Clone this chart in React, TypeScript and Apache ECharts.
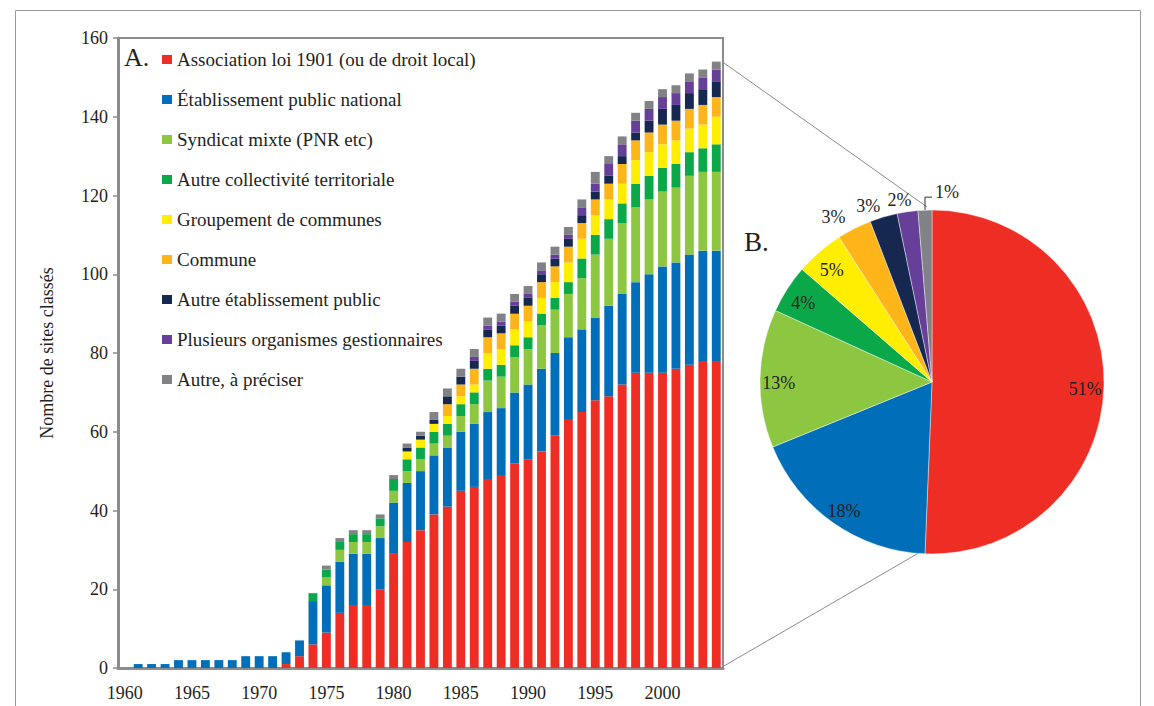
import React, { useEffect, useRef } from "react";
import * as echarts from "echarts";

const years = [
  "1960", "1961", "1962", "1963", "1964", "1965", "1966", "1967", "1968", "1969",
  "1970", "1971", "1972", "1973", "1974", "1975", "1976", "1977", "1978", "1979",
  "1980", "1981", "1982", "1983", "1984", "1985", "1986", "1987", "1988", "1989",
  "1990", "1991", "1992", "1993", "1994", "1995", "1996", "1997", "1998", "1999",
  "2000", "2001", "2002", "2003", "2004",
];

const seriesNames = [
  "Association loi 1901 (ou de droit local)",
  "Établissement public national",
  "Syndicat mixte (PNR etc)",
  "Autre collectivité territoriale",
  "Groupement de communes",
  "Commune",
  "Autre établissement public",
  "Plusieurs organismes gestionnaires",
  "Autre, à préciser",
];

const colors = ["#EE2E24", "#006EB8", "#8DC640", "#0BA84A", "#FFEE00", "#FDB519", "#16284F", "#663F98", "#808285"];

const association = [0, 0, 0, 0, 0, 0, 0, 0, 0, 0, 0, 0, 1, 3, 6, 9, 14, 16, 16, 20, 29, 32, 35, 39, 41, 45, 46, 48, 49, 52, 53, 55, 59, 63, 65, 68, 69, 72, 75, 75, 75, 76, 77, 78, 78];
const etabNational = [0, 1, 1, 1, 2, 2, 2, 2, 2, 3, 3, 3, 3, 4, 11, 12, 13, 13, 13, 13, 13, 15, 15, 15, 15, 15, 16, 17, 17, 18, 19, 21, 21, 21, 21, 21, 23, 23, 23, 25, 27, 27, 28, 28, 28];
const syndicatMixte = [0, 0, 0, 0, 0, 0, 0, 0, 0, 0, 0, 0, 0, 0, 0, 2, 3, 3, 3, 3, 3, 3, 3, 3, 3, 4, 5, 8, 8, 9, 9, 11, 11, 11, 13, 16, 17, 18, 19, 19, 19, 19, 20, 20, 20];
const collectivite = [0, 0, 0, 0, 0, 0, 0, 0, 0, 0, 0, 0, 0, 0, 2, 2, 2, 2, 2, 2, 3, 3, 3, 3, 3, 3, 3, 3, 3, 3, 3, 3, 3, 3, 5, 5, 5, 5, 6, 6, 6, 6, 6, 6, 7];
const groupement = [0, 0, 0, 0, 0, 0, 0, 0, 0, 0, 0, 0, 0, 0, 0, 0, 0, 0, 0, 0, 0, 2, 2, 2, 2, 2, 2, 4, 4, 4, 4, 4, 4, 5, 5, 5, 5, 5, 6, 6, 6, 6, 6, 6, 7];
const commune = [0, 0, 0, 0, 0, 0, 0, 0, 0, 0, 0, 0, 0, 0, 0, 0, 0, 0, 0, 0, 0, 0, 0, 0, 3, 3, 4, 4, 4, 4, 4, 4, 4, 4, 4, 4, 4, 5, 5, 5, 5, 5, 5, 5, 5];
const autreEtab = [0, 0, 0, 0, 0, 0, 0, 0, 0, 0, 0, 0, 0, 0, 0, 0, 0, 0, 0, 0, 0, 1, 1, 1, 2, 2, 2, 2, 2, 2, 2, 2, 2, 2, 2, 2, 2, 2, 2, 3, 4, 4, 4, 4, 4];
const plusieurs = [0, 0, 0, 0, 0, 0, 0, 0, 0, 0, 0, 0, 0, 0, 0, 0, 0, 0, 0, 0, 0, 0, 0, 0, 0, 0, 1, 1, 1, 1, 1, 1, 1, 1, 2, 2, 3, 3, 3, 3, 3, 3, 3, 3, 3];
const autre = [0, 0, 0, 0, 0, 0, 0, 0, 0, 0, 0, 0, 0, 0, 0, 1, 1, 1, 1, 1, 1, 1, 1, 2, 2, 2, 2, 2, 2, 2, 2, 2, 2, 2, 2, 3, 2, 2, 2, 2, 2, 2, 2, 2, 2];

const pieLabels = ["51%", "18%", "13%", "4%", "5%", "3%", "3%", "2%", "1%"];

const SERIF = "'Liberation Serif', 'Times New Roman', serif";
const TEXT = "#231F20";
const AXIS = "#8c8c8c";

export default function App() {
  const ref = useRef<HTMLDivElement>(null);

  useEffect(() => {
    if (!ref.current) return;
    const chart = echarts.init(ref.current, null, { renderer: "svg" });
    const stacks = [association, etabNational, syndicatMixte, collectivite, groupement, commune, autreEtab, plusieurs, autre];
    const PIE_C = [932, 382];
    const PIE_R = 172;
    const INNER_LABEL_R = 148;

    const bars = stacks.map((d, i) => ({
      name: seriesNames[i],
      type: "bar",
      stack: "total",
      data: d,
      barCategoryGap: "34%",
      itemStyle: { color: colors[i] },
      emphasis: { disabled: true },
    }));

    const pie = {
      type: "pie",
      center: PIE_C,
      radius: PIE_R,
      startAngle: 90,
      clockwise: true,
      avoidLabelOverlap: false,
      silent: true,
      itemStyle: { borderColor: "rgba(255,255,255,0.7)", borderWidth: 0.6 },
      label: {
        fontFamily: SERIF,
        fontSize: 18,
        color: TEXT,
        formatter: (p: any) => pieLabels[p.dataIndex],
      },
      labelLine: { show: false, length: 8, length2: 0 },
      data: seriesNames.map((n, i) => ({
        name: n,
        value: stacks[i][stacks[i].length - 1],
        itemStyle: { color: colors[i] },
        label: { position: i <= 4 ? "inside" : "outside" },
        labelLine: { show: i === 8, length: 8, length2: 0, lineStyle: { color: "#333", width: 1 } },
      })),
      labelLayout: (p: any) => {
        const i = p.dataIndex;
        const r = p.labelRect;
        if (i <= 4) {
          const lx = r.x + r.width / 2;
          const ly = r.y + r.height / 2;
          const k = INNER_LABEL_R / (PIE_R / 2);
          return {
            x: PIE_C[0] + (lx - PIE_C[0]) * k,
            y: PIE_C[1] + (ly - PIE_C[1]) * k + 4,
            align: "center",
            verticalAlign: "middle",
          };
        }
        if (i === 8 && p.labelLinePoints) {
          const x0 = p.labelLinePoints[0][0];
          const y0 = p.labelLinePoints[0][1];
          return {
            x: x0 + 10,
            y: y0 - 18,
            align: "left",
            verticalAlign: "middle",
            labelLinePoints: [[x0, y0], [x0, y0 - 13], [x0 + 7, y0 - 13]],
          };
        }
        if (i === 7) return { dx: 10, dy: -4 };
        if (i === 6) return { dx: 4, dy: -3 };
        return { dy: -4 };
      },
    };

    chart.setOption({
      animation: false,
      backgroundColor: "#ffffff",
      textStyle: { fontFamily: SERIF },
      grid: {
        left: 118,
        right: 431,
        top: 38,
        bottom: 38,
        show: true,
        borderColor: AXIS,
        borderWidth: 2,
        backgroundColor: "transparent",
      },
      legend: {
        orient: "vertical",
        left: 162,
        top: 50,
        padding: 0,
        itemWidth: 10,
        itemHeight: 9,
        itemGap: 21,
        icon: "rect",
        selectedMode: false,
        data: seriesNames,
        textStyle: { fontFamily: SERIF, fontSize: 19, color: TEXT },
      },
      xAxis: {
        type: "category",
        data: years,
        axisLine: { lineStyle: { color: AXIS, width: 3 } },
        axisTick: { show: false },
        axisLabel: { interval: 4, color: TEXT, fontSize: 18, fontFamily: SERIF, margin: 16 },
      },
      yAxis: {
        type: "value",
        min: 0,
        max: 160,
        interval: 20,
        name: "Nombre de sites classés",
        nameLocation: "middle",
        nameGap: 62,
        nameTextStyle: { color: TEXT, fontSize: 18, fontFamily: SERIF },
        axisLine: { show: true, lineStyle: { color: AXIS, width: 3 } },
        axisTick: { show: true, length: 5, lineStyle: { color: AXIS, width: 1.5 } },
        splitLine: { show: false },
        axisLabel: { color: TEXT, fontSize: 18, fontFamily: SERIF, margin: 10 },
      },
      series: [...bars, pie],
      graphic: [
        {
          type: "rect",
          z: -10,
          shape: { x: 15.5, y: 10.5, width: 1125, height: 720 },
          style: { fill: "none", stroke: "#9a9a9a", lineWidth: 1 },
        },
        {
          type: "line",
          shape: { x1: 724, y1: 63, x2: 927, y2: 207 },
          style: { stroke: AXIS, lineWidth: 1 },
        },
        {
          type: "line",
          shape: { x1: 724, y1: 666, x2: 922, y2: 551 },
          style: { stroke: AXIS, lineWidth: 1 },
        },
        {
          type: "text",
          left: 124,
          top: 44,
          style: { text: "A.", fontSize: 26, fontFamily: SERIF, fill: TEXT },
        },
        {
          type: "text",
          left: 744,
          top: 228,
          style: { text: "B.", fontSize: 27, fontFamily: SERIF, fill: TEXT },
        },
      ],
    });

    return () => chart.dispose();
  }, []);

  return (
    <div
      ref={ref}
      style={{ position: "absolute", left: 0, top: 0, width: 1154, height: 706, background: "#fff" }}
    />
  );
}
